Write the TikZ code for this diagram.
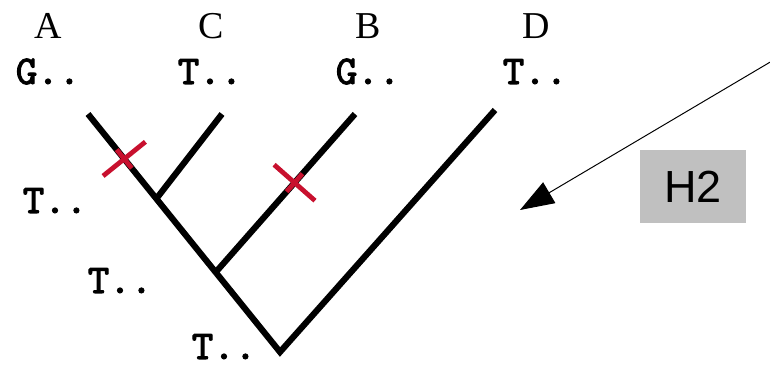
\documentclass[tikz,border=0pt]{standalone}
\usepackage{fontspec}
\setmainfont{Liberation Serif}
\setsansfont{Liberation Sans}
\newfontfamily\seqfont{lmmono10-regular.otf}[FakeBold=2.5]
\usetikzlibrary{arrows.meta,calc}
\definecolor{mutred}{RGB}{200,16,46}
\definecolor{boxgray}{RGB}{192,192,192}

\begin{document}
\begin{tikzpicture}[
  x=0.025cm, y=-0.025cm,
  branch/.style={line width=4.4pt, draw=black},
  mut/.style={line width=3.4pt, draw=mutred},
  taxon/.style={font=\fontsize{27}{27}\selectfont, anchor=base, inner sep=0pt},
  seq/.style={font=\seqfont\fontsize{29}{29}\selectfont, anchor=base, inner sep=0pt},
  hyp/.style={rectangle, fill=boxgray, minimum width=2.65cm, minimum height=1.825cm,
              inner sep=0pt, font=\sffamily\fontsize{32}{32}\selectfont},
  arr/.style={-{Triangle[length=0.85cm, width=0.6cm]}, line width=0.7pt, draw=black},
]
\newcommand{\mutation}[3]{% point, branch start, branch end
  \coordinate (#1) at ($(#2)!0.5!(#3)$);
  \draw[mut] ($(#1)!0.68cm!90:(#3)$) -- ($(#1)!0.68cm!-90:(#3)$);
  \draw[mut] ($(#1)!0.3cm!(#3)$) -- ($(#1)!0.3cm!(#2)$);}
\useasboundingbox (0,0) rectangle (770,366);

% ---------- taxa and their sites ----------
\node[taxon] (tA) at (48,39)  {A};
\node[taxon] (tC) at (211,39) {C};
\node[taxon] (tB) at (368,39) {B};
\node[taxon] (tD) at (536,39) {D};
\node[seq] (sA) at (48,84)  {G..};
\node[seq] (sC) at (210,84) {T..};
\node[seq] (sB) at (368,84) {G..};
\node[seq] (sD) at (535,84) {T..};

% ---------- tree ----------
\coordinate (lA) at (88,114);
\coordinate (lC) at (222,114);
\coordinate (lB) at (355,114);
\coordinate (lD) at (495,110);
\coordinate (root) at (280,352);
\coordinate (nAC)  at ($(root)!0.644!(lA)$);
\coordinate (nACB) at ($(root)!0.335!(lA)$);
\draw[branch] (lA) -- (root) -- (lD);
\draw[branch] (nAC) -- (lC);
\draw[branch] (nACB) -- (lB);

% ---------- ancestral sites ----------
\node[seq] (sAC)   at (55,213)  {T..};
\node[seq] (sACB)  at (120,293) {T..};
\node[seq] (sRoot) at (224,359) {T..};

% ---------- mutations ----------
\coordinate (mA0) at ($(lA)!0.06!(nAC)$);
\coordinate (mA1) at ($(lA)!1.0!(nAC)$);
\mutation{mA}{mA0}{mA1}
\coordinate (mB0) at ($(nACB)!0.132!(lB)$);
\coordinate (mB1) at ($(nACB)!1.0!(lB)$);
\mutation{mB}{mB0}{mB1}

% ---------- hypothesis ----------
\node[hyp] (h2) at (693,186.5) {H2};
\coordinate (from) at (772,61);
\coordinate (to) at (520,210);
\draw[arr] (from) -- (to);
\end{tikzpicture}
\end{document}
